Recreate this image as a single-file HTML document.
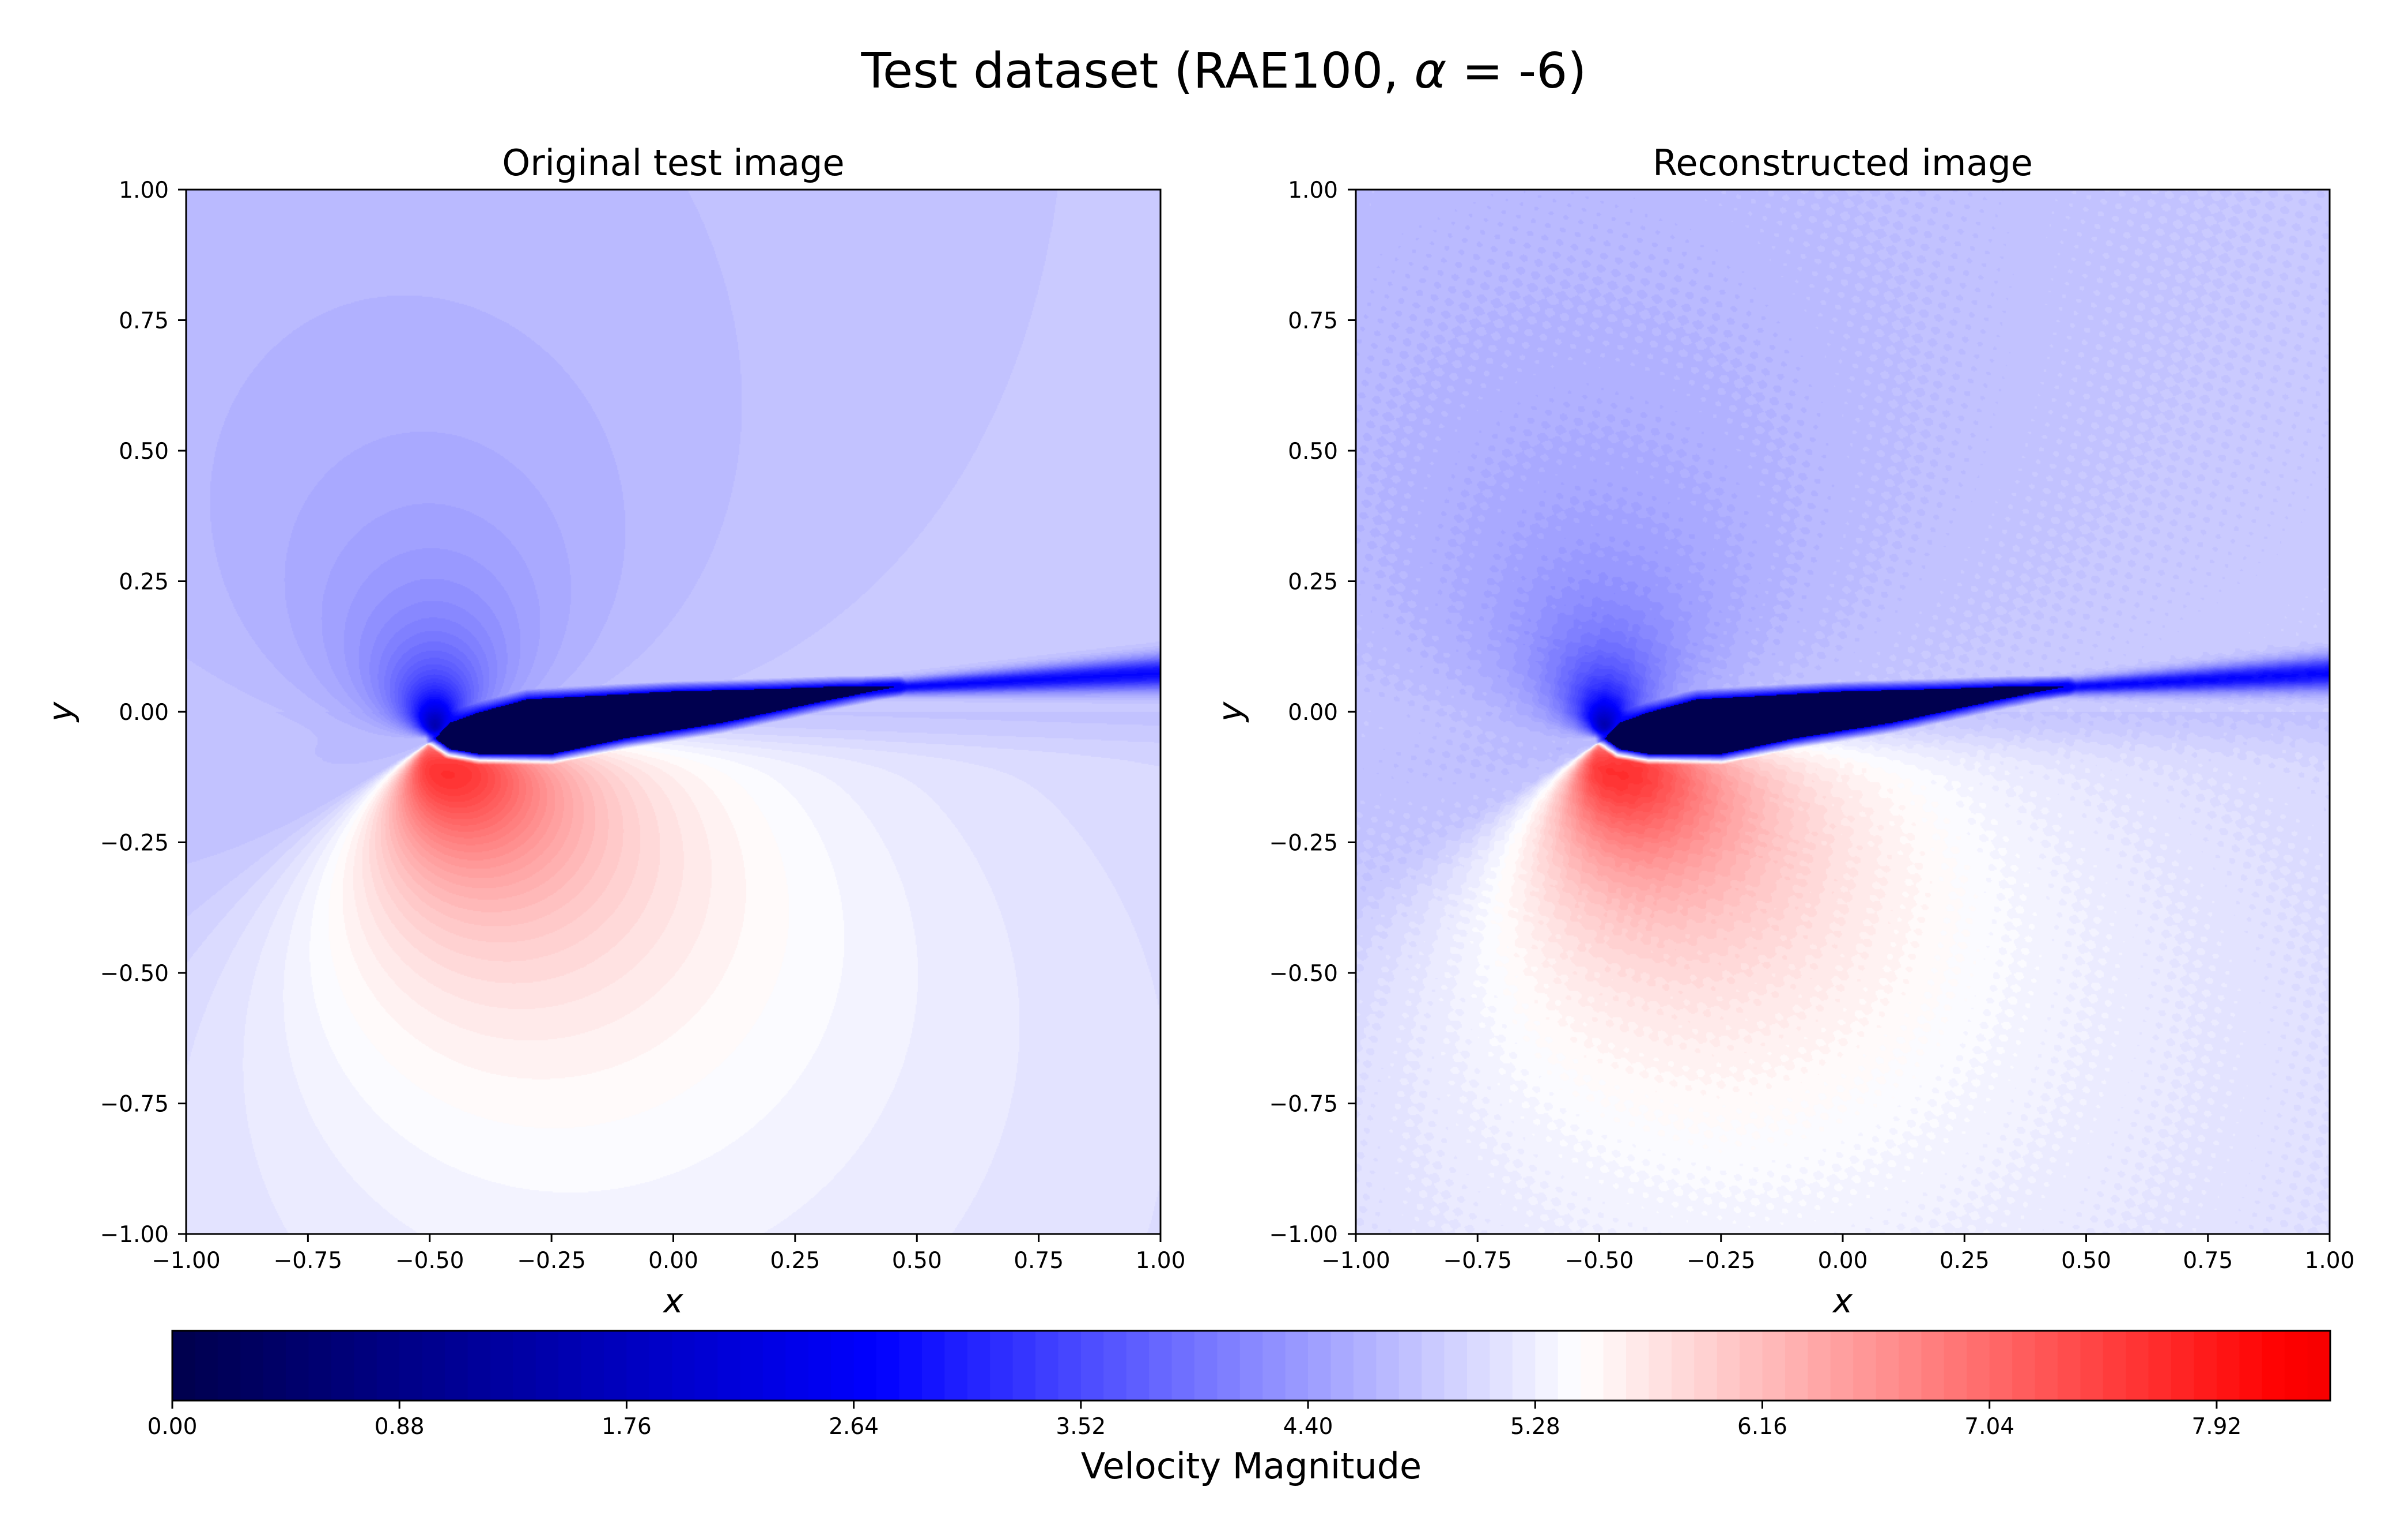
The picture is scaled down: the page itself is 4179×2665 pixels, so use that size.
<!DOCTYPE html>
<html><head><meta charset="utf-8">
<style>
html,body{margin:0;padding:0;background:#fff;}
#root{position:relative;width:4179px;height:2665px;overflow:hidden;font-family:"DejaVu Sans","Liberation Sans",sans-serif;}
canvas{position:absolute;}
svg{position:absolute;left:0;top:0;}
</style></head>
<body>
<div id="root">
<canvas id="c1" width="1691" height="1812" style="left:323px;top:329px"></canvas>
<canvas id="c2" width="1690" height="1812" style="left:2353px;top:329px"></canvas>
<svg id="ov" width="4179" height="2665"></svg>
</div>
<script>
// ---- data ----
const vmaxCmap = 10.9;            // seismic colormap upper value
const cbarMax = 8.36;             // colorbar extent
const cbarTicks = [0.00,0.88,1.76,2.64,3.52,4.40,5.28,6.16,7.04,7.92];
const axisTicks = [-1.00,-0.75,-0.50,-0.25,0.00,0.25,0.50,0.75,1.00];
const freestream = [4.85];
const leadingEdge = [-0.49,-0.05];
const upperDipole = [0.17, -0.02, 1.0];   // strength, px, py
const lowerDipole = [0.52, -0.55, 0.83];
const lowerStretch = [0.85];
const wakeStart = [0.40, 0.045];
const wakeEnd = [1.00, 0.075];
const wakeDepth = [2.1];
const bodyX = [-0.49,-0.46,-0.40,-0.30,-0.20,0.00,0.20,0.35,0.46,0.30,0.10,-0.10,-0.25,-0.40,-0.46];
const bodyY = [-0.05,-0.02,0.00,0.025,0.03,0.04,0.045,0.05,0.05,0.02,-0.02,-0.05,-0.08,-0.08,-0.07];

const NS="http://www.w3.org/2000/svg";
function cmap(v){
  let t=Math.max(0,Math.min(1,v/vmaxCmap)),r,g,b;
  if(t<0.25){r=0;g=0;b=0.3+0.7*t/0.25;}
  else if(t<0.5){const s=(t-0.25)/0.25;r=s;g=s;b=1;}
  else if(t<0.75){const s=(t-0.5)/0.25;r=1;g=1-s;b=1-s;}
  else {const s=(t-0.75)/0.25;r=1-0.5*s;g=0;b=0;}
  return [r*255,g*255,b*255];
}
function inPoly(x,y){
  let c=false;
  for(let i=0,j=bodyX.length-1;i<bodyX.length;j=i++){
    if(((bodyY[i]>y)!=(bodyY[j]>y))&&(x<(bodyX[j]-bodyX[i])*(y-bodyY[i])/(bodyY[j]-bodyY[i])+bodyX[i]))c=!c;
  }return c;
}
function segDist(x,y,ax,ay,bx,by){
  const dx=bx-ax,dy=by-ay;let t=((x-ax)*dx+(y-ay)*dy)/(dx*dx+dy*dy);
  t=Math.max(0,Math.min(1,t));const ex=ax+t*dx-x,ey=ay+t*dy-y;return [Math.sqrt(ex*ex+ey*ey),t];
}
function polyDist(x,y){
  let m=1e9;
  for(let i=0,j=bodyX.length-1;i<bodyX.length;j=i++){m=Math.min(m,segDist(x,y,bodyX[j],bodyY[j],bodyX[i],bodyY[i])[0]);}
  return m;
}
function speed(x,y,recon){
  const dx=x-leadingEdge[0],dy=y-leadingEdge[1];
  const r2=dx*dx+dy*dy+0.0004;
  let v=freestream[0];
  const pu=upperDipole,nu=Math.hypot(pu[1],pu[2]);
  const fu=-pu[0]*(dx*pu[1]/nu+dy*pu[2]/nu)/r2;
  const pl=lowerDipole,nl=Math.hypot(pl[1],pl[2]);
  const sdx=dx*lowerStretch[0];
  const r2l=sdx*sdx+dy*dy+0.0004;
  let fl=-pl[0]*(sdx*pl[1]/nl+dy*pl[2]/nl)/r2l;
  fl=fl>0?3*Math.tanh(fl/3):Math.max(-0.25,fl*0.12);
  const w=0.5+0.5*Math.tanh(dy/0.04);
  v+=w*Math.max(-4.8,Math.min(fu,0.1))+(1-w)*fl;
  // gentle far-field variation
  v+=0.2*(x+1)/2*(y>0?0.3:-0.3);
  const wd=segDist(x,y,wakeStart[0],wakeStart[1],wakeEnd[0],wakeEnd[1]);
  const ww=0.012+0.02*wd[1];
  v-=wakeDepth[0]*Math.exp(-(wd[0]*wd[0])/(ww*ww));
  if(recon){
    v+=0.04*Math.sin(x*131+y*97)*Math.cos(y*149-x*61);
  }
  v=Math.max(0,Math.min(cbarMax,v));
  if(inPoly(x,y))return 0;
  const d=polyDist(x,y);
  if(d<0.02){v=v*(d/0.02)+ (1-d/0.02)*Math.min(v,2.6);}
  return v;
}
function drawField(id,recon){
  const cv=document.getElementById(id),ctx=cv.getContext('2d');
  const W=cv.width,H=cv.height,step=2;
  const img=ctx.createImageData(W,H);
  const lv=cbarMax/95;
  for(let py=0;py<H;py+=step){
    const y=1-2*py/H;
    for(let px=0;px<W;px+=step){
      const x=-1+2*px/W;
      let v=speed(x,y,recon);
      v=Math.floor(v/lv)*lv+lv/2;
      const c=cmap(v);
      for(let yy=py;yy<Math.min(H,py+step);yy++)for(let xx=px;xx<Math.min(W,px+step);xx++){
        const k=(yy*W+xx)*4;img.data[k]=c[0];img.data[k+1]=c[1];img.data[k+2]=c[2];img.data[k+3]=255;}
    }
  }
  ctx.putImageData(img,0,0);
}
drawField('c1',false);
drawField('c2',true);

const ov=document.getElementById('ov');
function el(tag,attrs,txt){const e=document.createElementNS(NS,tag);for(const k in attrs)e.setAttribute(k,attrs[k]);if(txt!==undefined)e.textContent=txt;ov.appendChild(e);return e;}
function fmt(v){return (v<0?"\u2212":"")+Math.abs(v).toFixed(2);}

const axes=[{x0:323,x1:2014,name:'original',title:'Original test image',lx:293},{x0:2353,x1:4043,name:'reconstructed',title:'Reconstructed image',lx:2322}];
const y0=329,y1=2141;
axes.forEach(a=>{
  const sx=v=>a.x0+(v+1)/2*(a.x1-a.x0), sy=v=>y0+(1-v)/2*(y1-y0);
  const f=el('rect',{x:a.x0,y:y0,width:a.x1-a.x0,height:y1-y0,fill:'none',stroke:'#000','stroke-width':3});
  
  
  axisTicks.forEach(t=>{
    const tx=el('line',{x1:sx(t),x2:sx(t),y1:y1,y2:y1+14,stroke:'#000','stroke-width':3});
    
    
    const xl=el('text',{x:sx(t),y:y1+59,'font-size':39,'text-anchor':'middle'},fmt(t));
    
    
    const ty=el('line',{x1:a.x0-14,x2:a.x0,y1:sy(t),y2:sy(t),stroke:'#000','stroke-width':3});
    
    
    const yl=el('text',{x:a.lx,y:sy(t)+14,'font-size':39,'text-anchor':'end'},fmt(t));
    
    
  });
  const tt=el('text',{x:(a.x0+a.x1)/2,y:304,'font-size':62,'text-anchor':'middle'},a.title);
  
  
  const xt=el('text',{x:(a.x0+a.x1)/2,y:2277,'font-size':58,'font-style':'italic','text-anchor':'middle'},'x');
  
  
  const ytx=a.x0-198;
  const yt=el('text',{x:ytx,y:(y0+y1)/2,'font-size':58,'font-style':'italic','text-anchor':'middle',transform:`rotate(-90 ${ytx} ${(y0+y1)/2})`},'y');
  
  
});

const mt=el('text',{x:2124,y:152,'font-size':85,'text-anchor':'middle'},'Test dataset (RAE100, ');


const ts=document.createElementNS(NS,'tspan');ts.setAttribute('font-style','italic');ts.textContent='α';mt.appendChild(ts);
mt.appendChild(document.createTextNode(' = -6)'));

// colorbar
const cb0=299,cb1=4044,cbT=2309,cbB=2430;
const csx=v=>cb0+v/cbarMax*(cb1-cb0);
const nb=95;
for(let i=0;i<nb;i++){
  const a=i*cbarMax/nb,b=(i+1)*cbarMax/nb,c=cmap((a+b)/2);
  const r=el('rect',{x:csx(a),y:cbT,width:csx(b)-csx(a)+1,height:cbB-cbT,fill:`rgb(${c[0]|0},${c[1]|0},${c[2]|0})`});
  
  
}
const cf=el('rect',{x:cb0,y:cbT,width:cb1-cb0,height:cbB-cbT,fill:'none',stroke:'#000','stroke-width':3});


cbarTicks.forEach(t=>{
  const l=el('line',{x1:csx(t),x2:csx(t),y1:cbB,y2:cbB+14,stroke:'#000','stroke-width':3});
  
  
  const tl=el('text',{x:csx(t),y:cbB+58,'font-size':39,'text-anchor':'middle'},t.toFixed(2));
  
  
});
const cl=el('text',{x:(cb0+cb1)/2,y:2565,'font-size':62,'text-anchor':'middle'},'Velocity Magnitude');


</script>
</body></html>
